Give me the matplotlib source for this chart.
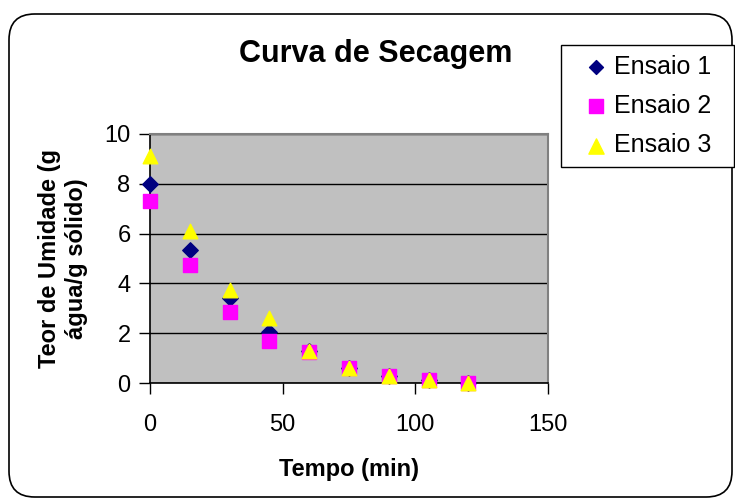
import matplotlib
matplotlib.use("Agg")
import matplotlib.pyplot as plt
from matplotlib.patches import FancyBboxPatch, Rectangle

plt.rcParams['font.family'] = ['Liberation Sans', 'DejaVu Sans']

tempo = [0, 15, 30, 45, 60, 75, 90, 105, 120]
ensaio1 = [8.0, 5.35, 3.4, 2.05, 1.3, 0.6, 0.3, 0.12, 0.02]
ensaio2 = [7.3, 4.75, 2.85, 1.7, 1.25, 0.6, 0.3, 0.12, 0.02]
ensaio3 = [9.1, 6.1, 3.75, 2.6, 1.3, 0.62, 0.3, 0.12, 0.02]
series_names = ["Ensaio 1", "Ensaio 2", "Ensaio 3"]
xticks = [0, 50, 100, 150]
yticks = [0, 2, 4, 6, 8, 10]

W, H = 735, 501
fig = plt.figure(figsize=(W / 100, H / 100), dpi=100)

# outer rounded border
border = FancyBboxPatch((9 / W, 4 / H), 723 / W, 483 / H,
                        boxstyle="round,pad=0,rounding_size=0.035",
                        transform=fig.transFigure, facecolor='none',
                        edgecolor='black', linewidth=1.2, zorder=-1,
                        mutation_aspect=W / H)
fig.patches.append(border)

ax = fig.add_axes([150 / W, (H - 383) / H, 398 / W, 249 / H])
ax.set_facecolor('#c0c0c0')
ax.set_xlim(0, 150)
ax.set_ylim(0, 10)
ax.set_xticks(xticks)
ax.set_yticks(yticks)
ax.grid(axis='y', color='black', linewidth=1.0)
ax.set_axisbelow(True)

ax.scatter(tempo, ensaio1, marker='D', s=62, color='#000080', label=series_names[0], zorder=3, clip_on=False)
ax.scatter(tempo, ensaio2, marker='s', s=95, color='#ff00ff', label=series_names[1], zorder=3, clip_on=False)
ax.scatter(tempo, ensaio3, marker='^', s=110, color='#ffff00', label=series_names[2], zorder=4, clip_on=False)

for side in ['top', 'right']:
    ax.spines[side].set_color('#808080')
    ax.spines[side].set_linewidth(1.5)
for side in ['left', 'bottom']:
    ax.spines[side].set_color('black')
    ax.spines[side].set_linewidth(1.2)

ax.tick_params(axis='both', direction='out', length=8, width=1.0, labelsize=17, colors='black')
ax.tick_params(axis='x', pad=14)
ax.tick_params(axis='y', pad=6)

ax.set_xlabel("Tempo (min)", fontsize=17, fontweight='bold', labelpad=16)
ax.set_ylabel("Teor de Umidade (g\nágua/g sólido)", fontsize=17, fontweight='bold', labelpad=12)

fig.text(376 / W, (H - 62) / H, "Curva de Secagem", fontsize=22, fontweight='bold',
         ha='center', va='baseline')

# legend frame drawn separately
fig.patches.append(Rectangle((561 / W, (H - 167) / H), 173 / W, 122 / H,
                             transform=fig.transFigure, facecolor='white',
                             edgecolor='black', linewidth=1.0, zorder=1))
leg = fig.legend(loc='upper left', bbox_to_anchor=(573 / W, (H - 47) / H), fontsize=18,
                 frameon=False, borderpad=0.3,
                 handletextpad=0.15, handlelength=1.2, labelspacing=0.62, borderaxespad=0)
for h, s in zip(leg.legend_handles, [50, 100, 120]):
    h.set_sizes([s])

fig.savefig("out.png", dpi=100)
